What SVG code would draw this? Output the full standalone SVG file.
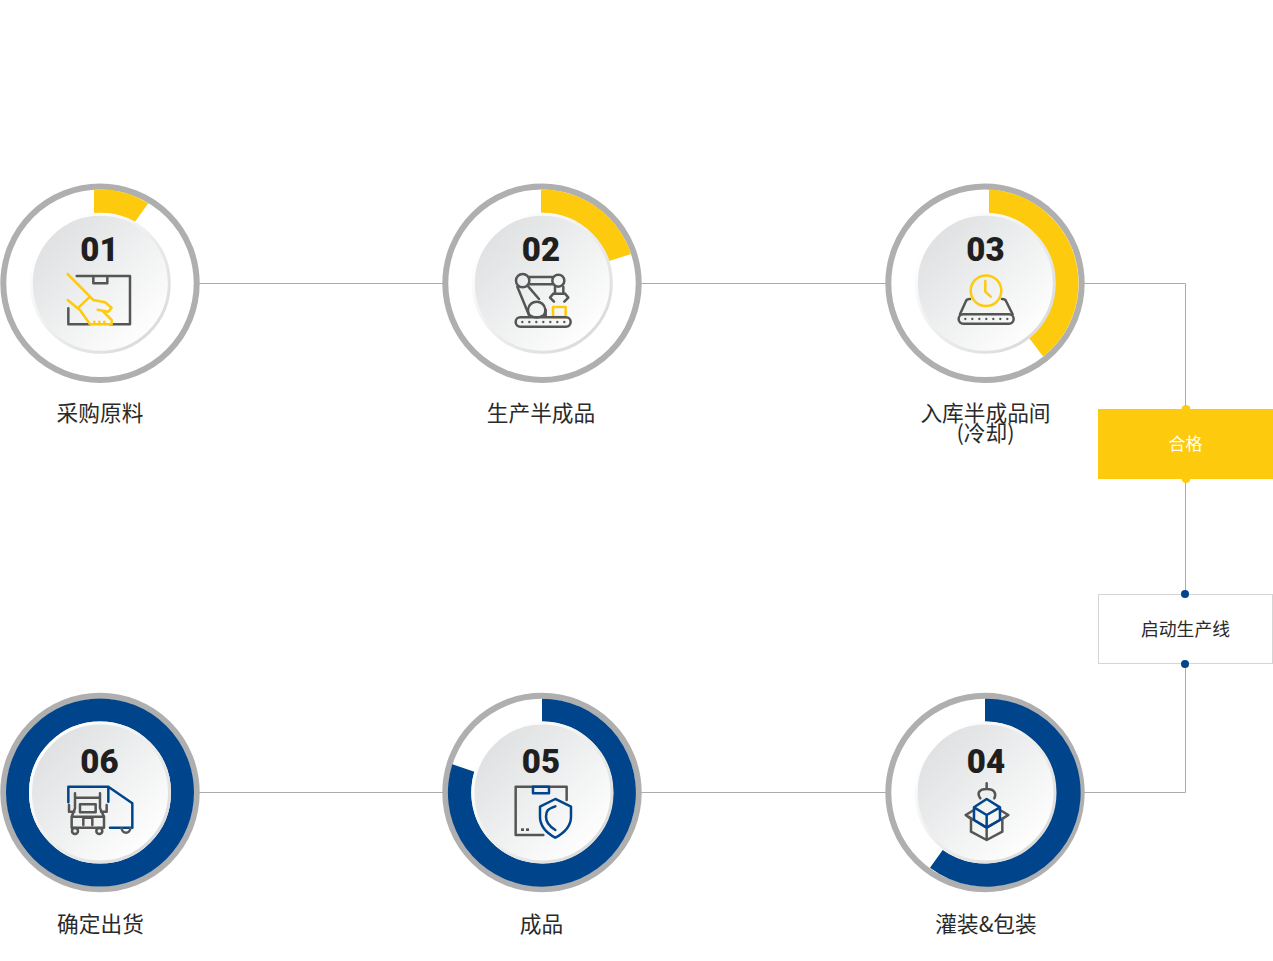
<svg xmlns="http://www.w3.org/2000/svg" width="1273" height="961" viewBox="0 0 1273 961">
<style>
.ring{fill:#fff;stroke:#afafaf;stroke-width:6}
.disc{fill:url(#discFill);stroke:url(#discEdge);stroke-width:3}
.y{fill:#fdca0e}.b{fill:#00448c}
.conn{fill:none;stroke:#ababab;stroke-width:1}
.num{font-family:"Roboto","Liberation Sans",sans-serif;font-weight:900;font-size:33px;fill:#1f1f1f;text-anchor:middle}
.lab{font-family:"Noto Sans CJK SC","Noto Sans",sans-serif;font-size:21.7px;fill:#2a2a2a;text-anchor:middle}
.box{font-family:"Noto Sans CJK SC","Noto Sans",sans-serif;font-size:17.8px;text-anchor:middle}
.ig,.iy,.ib{fill:none;stroke-width:7.500;stroke-linecap:round;stroke-linejoin:round}
.ig{stroke:#555}.iy{stroke:#fdca0e}.ib{stroke:#00448c}
.dots{fill:#555;stroke:none}
</style>
<defs>
<linearGradient id="discFill" x1="0.12" y1="0.12" x2="0.88" y2="0.88"><stop offset="0" stop-color="#dee0e1"/><stop offset="1" stop-color="#ffffff"/></linearGradient>
<linearGradient id="discEdge" x1="0.15" y1="0.15" x2="0.85" y2="0.85"><stop offset="0" stop-color="#ffffff"/><stop offset="1" stop-color="#dcdcdc"/></linearGradient>
<g id="belt"><rect x="0" y="0" width="165" height="28" rx="14" class="ig"/><g class="dots"><circle cx="20" cy="14" r="3.500"/><circle cx="41" cy="14" r="3.500"/><circle cx="62" cy="14" r="3.500"/><circle cx="83" cy="14" r="3.500"/><circle cx="104" cy="14" r="3.500"/><circle cx="125" cy="14" r="3.500"/><circle cx="146" cy="14" r="3.500"/></g></g>
</defs>
<g id="connectors">
<path class="conn" d="M199 283.500H443M641 283.500H886M1084 283.500H1185.500V409M1185.500 479V594M1185.500 664V792.500H1084M886 792.500H641M443 792.500H199"/>
</g>
<g id="node-01">
<circle class="ring" cx="100" cy="283.300" r="96.700"/>
<path class="y" d="M94 189.500A94 94 0 0 1 148.300 203.300L135 221.700A70.500 70.500 0 0 0 94 213.300Z"/>
<circle class="disc" cx="100.300" cy="283.300" r="69"/>
<text class="num" x="99.500" y="261">01</text>
<g transform="translate(55 265) scale(.3333)">
<path class="ig" d="M65 33H225V178H165M105 178H40V130M115 33V55H157V33"/>
<path class="iy" d="M38 27L105 95L68 130L38 105M105 95L115 105L150 112L170 128L160 140L128 134M68 130L75 135L105 178H170V165L145 140M118 178V170M133 178V170M148 178V170"/>
</g>
<text class="lab" x="100" y="421">采购原料</text>
</g>
<g id="node-02">
<circle class="ring" cx="542" cy="283.300" r="96.700"/>
<path class="y" d="M541 189.500A94 94 0 0 1 631 254L609.300 261A70.500 70.500 0 0 0 541 213.300Z"/>
<circle class="disc" cx="542.300" cy="283.300" r="69"/>
<text class="num" x="541" y="261">02</text>
<g transform="translate(500 265) scale(.3333)">
<circle class="ig" cx="68" cy="47" r="20"/><circle class="ig" cx="175" cy="47" r="18"/>
<path class="ig" d="M88 36H157M88 58H157M52 65L87 150M85 65L117 102M87 150V155M137 135V155"/>
<path class="ig" d="M88 150A26 26 0 1 1 132 150Q110 165 88 150Z"/>
<path class="ig" d="M165 65V86M190 65V86M160 86H195M160 86L150 98L162 110M195 86L205 98L193 110"/>
<rect class="iy" x="159" y="126" width="38" height="30"/>
<use href="#belt" x="47" y="157"/>
</g>
<text class="lab" x="541" y="421">生产半成品</text>
</g>
<g id="node-03">
<circle class="ring" cx="985" cy="283.300" r="96.700"/>
<path class="y" d="M989 189.500A94 94 0 0 1 1043.300 356.700L1029.300 338.300A70.500 70.500 0 0 0 989 213.300Z"/>
<circle class="disc" cx="985.300" cy="283.300" r="69"/>
<text class="num" x="985.500" y="261">03</text>
<g transform="translate(880 175)">
<circle cx="106" cy="115.700" r="15.300" fill="none" stroke="#fdca0e" stroke-width="2.500"/>
<path d="M105.300 106V116.700L110.700 121.700" fill="none" stroke="#fdca0e" stroke-width="2.500" stroke-linecap="round" stroke-linejoin="round"/>
</g>
<g transform="translate(880 175) scale(.3333)">
<path class="ig" d="M240 418L258 378Q260 372 270 372M398 418L378 378Q376 372 366 372"/>
<use href="#belt" x="236" y="418"/>
</g>
<text class="lab" x="985.500" y="421">入库半成品间</text>
<text class="lab" x="985.500" y="440.500">(冷却)</text>
</g>
<g id="node-04">
<circle class="ring" cx="985" cy="792.500" r="96.700"/>
<path class="b" d="M985 698.700A94 94 0 1 1 930 867.700L942.700 850A71 71 0 1 0 985 721.500Z"/>
<circle class="disc" cx="985.500" cy="792.500" r="69.500"/>
<text class="num" x="986" y="773">04</text>
<g transform="translate(945 775) scale(.3333)">
<path class="ig" d="M125 25V42M106 70C95 55 102 42 125 42C148 42 155 55 148 70"/>
<path class="ig" d="M87 105L62 120L125 158L190 120L165 105M78 135V170L125 195L172 170V135M125 158V195M62 120L78 132M190 120L172 132"/>
<path class="ib" d="M125 72L165 97V135L125 158L87 135V97ZM87 97L125 120L165 97M125 120V158"/>
</g>
<text class="lab" x="986" y="932">灌装&amp;包装</text>
</g>
<g id="node-05">
<circle class="ring" cx="542" cy="792.500" r="96.700"/>
<path class="b" d="M542 698.700A94 94 0 1 1 452.300 764.300L474.300 771.700A71 71 0 1 0 542 721.500Z"/>
<circle class="disc" cx="542.500" cy="792.500" r="69.500"/>
<text class="num" x="541" y="773">05</text>
<g transform="translate(500 775) scale(.3333)">
<path class="ig" d="M130 180H47V35H200V75"/>
<rect class="ib" x="99" y="35" width="48" height="20"/>
<g class="dots"><rect x="63" y="160" width="9" height="8"/><rect x="78" y="160" width="9" height="8"/></g>
<path class="ib" d="M166 72L213 95V125C213 155 190 175 166 188C142 175 120 155 120 125V95Z"/>
<path class="ib" d="M166 94C142 102 138 108 138 125C138 143 150 155 166 165"/>
</g>
<text class="lab" x="541.500" y="932">成品</text>
</g>
<g id="node-06">
<circle class="ring" cx="100" cy="792.500" r="96.700"/>
<circle cx="100" cy="792.500" r="82.500" fill="none" stroke="#00448c" stroke-width="23"/>
<circle class="disc" cx="100" cy="792.500" r="69.500"/>
<text class="num" x="99.500" y="773">06</text>
<g transform="translate(55 775) scale(.3333)">
<path class="ib" d="M40 82V35H160L232 85V158H165M160 35V80"/>
<path class="ig" d="M60 55V100M135 55V100M60 68H135M60 100L50 125V158H147V125L135 100M42 90V110L58 110M155 90V110L138 110M75 88H122V112H75ZM85 150V128H112V150M50 125H147"/>
<circle class="ig" cx="60" cy="168" r="9"/><circle class="ig" cx="133" cy="168" r="9"/>
<path class="ig" d="M200 160A13 13 0 0 0 226 160"/>
</g>
<text class="lab" x="100.500" y="932">确定出货</text>
</g>
<g id="node-pass">
<circle cx="1186" cy="409.500" r="4.500" fill="#fdca0e"/><circle cx="1186" cy="478.500" r="4.500" fill="#fdca0e"/>
<rect x="1098" y="409" width="175" height="70" fill="#fdca0e"/>
<text class="box" x="1185.500" y="449.500" fill="#fff" style="font-size:17px">合格</text>
</g>
<g id="node-start">
<rect x="1098.500" y="594.500" width="174" height="69" fill="#fff" stroke="#d5d5d5"/>
<circle cx="1185" cy="594" r="4" fill="#00448c"/><circle cx="1185" cy="664" r="4" fill="#00448c"/>
<text class="box" x="1185.500" y="636" fill="#2a2a2a">启动生产线</text>
</g>
</svg>
